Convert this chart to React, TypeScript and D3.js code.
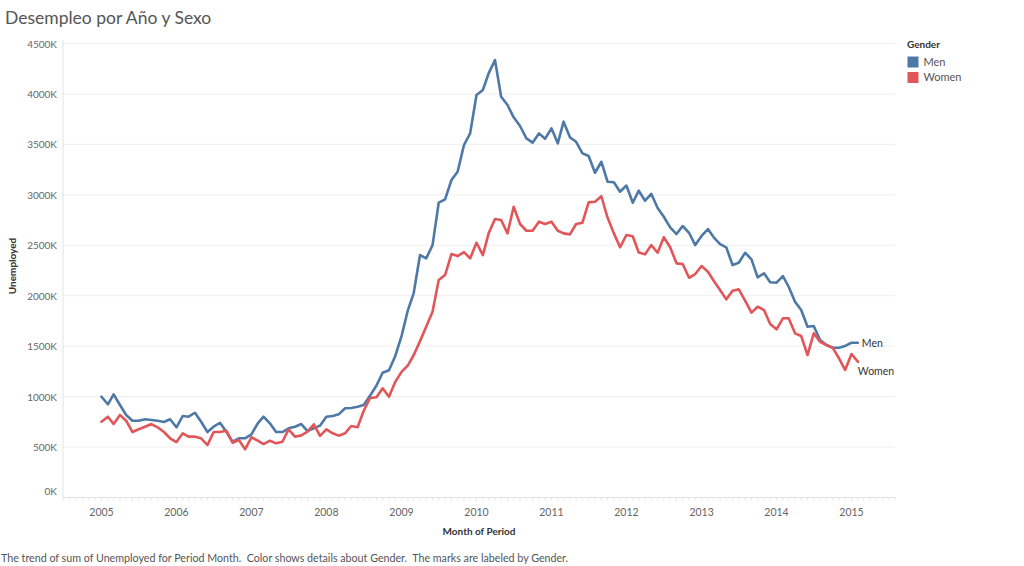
import React, { useRef, useEffect } from 'react';
import * as d3 from 'd3';

// monthly series, Jan 2005 .. Feb 2015, thousands
const startMonth = new Date(2005, 0, 1);

const menValues = [
  999, 924, 1023, 917, 818, 761, 761, 775, 768, 761, 748, 775,
  696, 808, 801, 840, 751, 649, 702, 741, 652, 553, 587, 587,
  626, 735, 801, 735, 649, 649, 686, 702, 728, 659, 686, 712,
  801, 808, 824, 884, 887, 900, 917, 1010, 1110, 1237, 1262, 1400,
  1600, 1858, 2024, 2403, 2370, 2502, 2922, 2955, 3147, 3229, 3494, 3609,
  3989, 4039, 4204, 4336, 3972, 3890, 3768, 3682, 3560, 3517, 3609, 3556,
  3659, 3510, 3725, 3570, 3526, 3411, 3385, 3219, 3328, 3130, 3125, 3031,
  3092, 2922, 3041, 2942, 3010, 2870, 2783, 2678, 2611, 2691, 2624, 2502,
  2592, 2661, 2579, 2512, 2480, 2304, 2327, 2426, 2361, 2182, 2222, 2133,
  2129, 2195, 2089, 1941, 1858, 1693, 1700, 1561, 1511, 1485, 1485, 1502,
  1534, 1534,
];

const womenValues = [
  751, 801, 728, 818, 761, 649, 676, 702, 728, 696, 649, 587,
  550, 636, 603, 603, 587, 520, 649, 649, 662, 543, 570, 478,
  597, 563, 530, 563, 537, 553, 676, 603, 616, 652, 725, 610,
  676, 636, 613, 636, 709, 696, 860, 986, 993, 1082, 999, 1145,
  1245, 1310, 1410, 1550, 1693, 1842, 2156, 2205, 2413, 2393, 2433, 2370,
  2525, 2403, 2618, 2760, 2750, 2618, 2882, 2711, 2644, 2644, 2734, 2711,
  2734, 2644, 2618, 2608, 2711, 2724, 2925, 2932, 2986, 2775, 2618, 2480,
  2602, 2590, 2428, 2410, 2502, 2426, 2579, 2480, 2321, 2314, 2178, 2215,
  2294, 2238, 2149, 2056, 1964, 2049, 2063, 1951, 1832, 1891, 1858, 1720,
  1667, 1776, 1776, 1627, 1601, 1412, 1627, 1544, 1511, 1485, 1380, 1264,
  1422, 1346,
];

const genders = ['Men', 'Women'];
const genderColors = ['#4E79A7', '#E15759'];
const yTicks = [0, 500, 1000, 1500, 2000, 2500, 3000, 3500, 4000, 4500];
const yearTicks = [2005, 2006, 2007, 2008, 2009, 2010, 2011, 2012, 2013, 2014, 2015];

const FONT = 'Lato, "Open Sans", sans-serif';

const App: React.FC = () => {
  const ref = useRef<SVGSVGElement>(null);

  useEffect(() => {
    const svg = d3.select(ref.current);
    svg.selectAll('*').remove();

    const plot = { left: 63, right: 895, top: 40, bottom: 497.5 };

    const x = d3
      .scaleTime()
      .domain([new Date(2005, 0, 1), new Date(2015, 0, 1)])
      .range([101.5, 851.5]);
    const y = d3.scaleLinear().domain([0, 4500]).range([plot.bottom, 43.5]);

    // gridlines
    svg
      .selectAll('.grid')
      .data(yTicks.slice(1))
      .enter()
      .append('line')
      .attr('x1', plot.left)
      .attr('x2', plot.right)
      .attr('y1', (d) => y(d))
      .attr('y2', (d) => y(d))
      .attr('stroke', '#eeeeee')
      .attr('stroke-width', 1);

    // axis lines
    svg
      .append('line')
      .attr('x1', plot.left)
      .attr('x2', plot.left)
      .attr('y1', plot.top)
      .attr('y2', plot.bottom)
      .attr('stroke', '#e2e2e2');
    svg
      .append('line')
      .attr('x1', plot.left)
      .attr('x2', plot.right)
      .attr('y1', plot.bottom)
      .attr('y2', plot.bottom)
      .attr('stroke', '#e2e2e2');

    // month ticks along the bottom
    const months = d3.timeMonth.range(new Date(2004, 6, 1), new Date(2015, 8, 1));
    svg
      .selectAll('.mtick')
      .data(months)
      .enter()
      .append('line')
      .attr('x1', (d) => x(d))
      .attr('x2', (d) => x(d))
      .attr('y1', plot.bottom)
      .attr('y2', plot.bottom + 3)
      .attr('stroke', '#e6e6e6');

    // y tick labels
    svg
      .selectAll('.ylab')
      .data(yTicks)
      .enter()
      .append('text')
      .attr('x', 57)
      .attr('y', (d) => (d === 0 ? y(d) - 3 : y(d) + 4))
      .attr('text-anchor', 'end')
      .attr('fill', '#666')
      .attr('font-size', '10px')
      .attr('font-family', FONT)
      .text((d) => `${d}K`);

    // x tick labels
    svg
      .selectAll('.xlab')
      .data(yearTicks)
      .enter()
      .append('text')
      .attr('x', (d) => x(new Date(d, 0, 1)))
      .attr('y', 516)
      .attr('text-anchor', 'middle')
      .attr('fill', '#666')
      .attr('font-size', '10.5px')
      .attr('font-family', FONT)
      .text((d) => d);

    // axis titles
    svg
      .append('text')
      .attr('x', 479)
      .attr('y', 535)
      .attr('text-anchor', 'middle')
      .attr('fill', '#333')
      .attr('font-size', '10px')
      .attr('font-weight', 'bold')
      .attr('font-family', FONT)
      .text('Month of Period');
    svg
      .append('text')
      .attr('transform', 'translate(16,266) rotate(-90)')
      .attr('text-anchor', 'middle')
      .attr('fill', '#333')
      .attr('font-size', '10px')
      .attr('font-weight', 'bold')
      .attr('font-family', FONT)
      .text('Unemployed');

    // lines
    const series = [menValues, womenValues];
    const line = d3
      .line<number>()
      .x((_, i) => x(d3.timeMonth.offset(startMonth, i)))
      .y((d) => y(d));

    series.forEach((vals, k) => {
      svg
        .append('path')
        .attr('d', line(vals))
        .attr('fill', 'none')
        .attr('stroke', genderColors[k])
        .attr('stroke-width', 2.6)
        .attr('stroke-linejoin', 'round')
        .attr('stroke-linecap', 'round');
    });

    // end labels
    const lastIdx = menValues.length - 1;
    const lastX = x(d3.timeMonth.offset(startMonth, lastIdx));
    svg
      .append('text')
      .attr('x', lastX + 4)
      .attr('y', y(menValues[lastIdx]) + 4)
      .attr('fill', '#333')
      .attr('font-size', '10.5px')
      .attr('font-family', FONT)
      .text(genders[0]);
    svg
      .append('text')
      .attr('x', lastX)
      .attr('y', y(womenValues[lastIdx]) + 13.5)
      .attr('fill', '#333')
      .attr('font-size', '10.5px')
      .attr('font-family', FONT)
      .text(genders[1]);

    // title
    svg
      .append('text')
      .attr('x', 5)
      .attr('y', 24)
      .attr('fill', '#555')
      .attr('font-size', '17.5px')
      .attr('font-family', FONT)
      .text('Desempleo por Año y Sexo');

    // legend
    svg
      .append('text')
      .attr('x', 907)
      .attr('y', 48)
      .attr('fill', '#333')
      .attr('font-size', '10px')
      .attr('font-weight', 'bold')
      .attr('font-family', FONT)
      .text('Gender');
    genders.forEach((g, k) => {
      svg
        .append('rect')
        .attr('x', 907.5)
        .attr('y', 56.5 + k * 15.5)
        .attr('width', 11)
        .attr('height', 11)
        .attr('fill', genderColors[k]);
      svg
        .append('text')
        .attr('x', 923.5)
        .attr('y', 65.5 + k * 15.5)
        .attr('fill', '#555')
        .attr('font-size', '11px')
        .attr('font-family', FONT)
        .text(g);
    });

    // footer
    svg
      .append('text')
      .attr('x', 1)
      .attr('y', 562)
      .attr('fill', '#555')
      .attr('font-size', '10.7px')
      .attr('font-family', FONT)
      .style('white-space', 'pre')
      .text(
        'The trend of sum of Unemployed for Period Month.  Color shows details about Gender.  The marks are labeled by Gender.'
      );
  }, []);

  return (
    <svg
      ref={ref}
      width={1024}
      height={566}
      style={{ position: 'absolute', left: 0, top: 0, background: '#fff' }}
    />
  );
};

export default App;
